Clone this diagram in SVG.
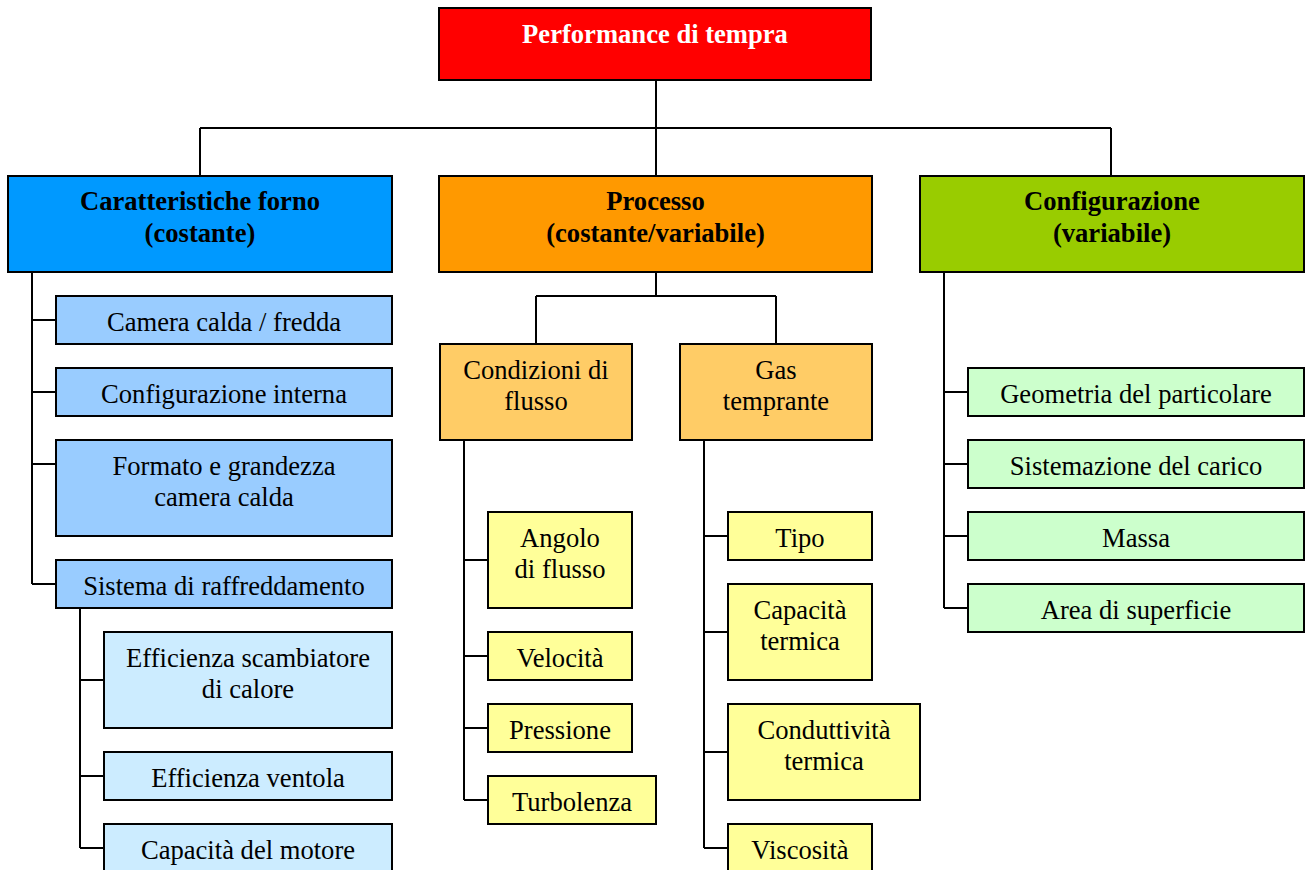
<svg xmlns="http://www.w3.org/2000/svg" width="1305" height="870" viewBox="0 0 1305 870">
<style>
rect{stroke:#000;stroke-width:2}
text{font-family:"Liberation Serif","Times New Roman",serif;font-size:26.6px;text-anchor:middle;fill:#000}
.b{font-weight:bold}
.w{fill:#fff}
#connectors path{fill:none;stroke:#000;stroke-width:2}
.red{fill:#ff0000}.blue{fill:#0099ff}.orange{fill:#ff9900}.green{fill:#99cc00}
.lb{fill:#99ccff}.llb{fill:#ccecff}.lo{fill:#ffcc66}.ye{fill:#ffff99}.lg{fill:#ccffcc}
</style>
<rect x="0" y="0" width="1305" height="870" fill="#fff" style="stroke:none"/>
<g id="connectors">
<path d="M656 80V128M200 128H1111M200 128V176M656 128V176M1111 128V176"/>
<path d="M32 272V584M32 320H56M32 392H56M32 464H56M32 584H56"/>
<path d="M80 608V848M80 680H104M80 776H104M80 848H104"/>
<path d="M656 272V296M536 296H776M536 296V344M776 296V344"/>
<path d="M464 440V800M464 560H488M464 656H488M464 728H488M464 800H488"/>
<path d="M704 440V848M704 536H728M704 632H728M704 752H728M704 848H728"/>
<path d="M944 272V608M944 392H968M944 464H968M944 536H968M944 608H968"/>
</g>
<g id="root"><rect class="red" x="439" y="8" width="432" height="72"/><text class="b w" x="655" y="43">Performance di tempra</text></g>
<g id="forno"><rect class="blue" x="8" y="176" width="384" height="96"/><text class="b" x="200" y="210">Caratteristiche forno</text><text class="b" x="200" y="242">(costante)</text></g>
<g id="processo"><rect class="orange" x="439" y="176" width="433" height="96"/><text class="b" x="655.5" y="210">Processo</text><text class="b" x="655.5" y="242">(costante/variabile)</text></g>
<g id="configurazione"><rect class="green" x="920" y="176" width="384" height="96"/><text class="b" x="1112" y="210">Configurazione</text><text class="b" x="1112" y="242">(variabile)</text></g>
<g id="camera"><rect class="lb" x="56" y="296" width="336" height="48"/><text x="224" y="331">Camera calda / fredda</text></g>
<g id="confint"><rect class="lb" x="56" y="368" width="336" height="48"/><text x="224" y="403">Configurazione interna</text></g>
<g id="formato"><rect class="lb" x="56" y="440" width="336" height="96"/><text x="224" y="475">Formato e grandezza</text><text x="224" y="506">camera calda</text></g>
<g id="sistema"><rect class="lb" x="56" y="560" width="336" height="48"/><text x="224" y="595">Sistema di raffreddamento</text></g>
<g id="scambiatore"><rect class="llb" x="104" y="632" width="288" height="96"/><text x="248" y="667">Efficienza scambiatore</text><text x="248" y="698">di calore</text></g>
<g id="ventola"><rect class="llb" x="104" y="752" width="288" height="48"/><text x="248" y="787">Efficienza ventola</text></g>
<g id="motore"><rect class="llb" x="104" y="824" width="288" height="60"/><text x="248" y="859">Capacità del motore</text></g>
<g id="flusso"><rect class="lo" x="440" y="344" width="192" height="96"/><text x="536" y="379">Condizioni di</text><text x="536" y="410">flusso</text></g>
<g id="gas"><rect class="lo" x="680" y="344" width="192" height="96"/><text x="776" y="379">Gas</text><text x="776" y="410">temprante</text></g>
<g id="angolo"><rect class="ye" x="488" y="512" width="144" height="96"/><text x="560" y="547">Angolo</text><text x="560" y="578">di flusso</text></g>
<g id="velocita"><rect class="ye" x="488" y="632" width="144" height="48"/><text x="560" y="667">Velocità</text></g>
<g id="pressione"><rect class="ye" x="488" y="704" width="144" height="48"/><text x="560" y="739">Pressione</text></g>
<g id="turbolenza"><rect class="ye" x="488" y="776" width="168" height="48"/><text x="572" y="811">Turbolenza</text></g>
<g id="tipo"><rect class="ye" x="728" y="512" width="144" height="48"/><text x="800" y="547">Tipo</text></g>
<g id="capterm"><rect class="ye" x="728" y="584" width="144" height="96"/><text x="800" y="619">Capacità</text><text x="800" y="650">termica</text></g>
<g id="condterm"><rect class="ye" x="728" y="704" width="192" height="96"/><text x="824" y="739">Conduttività</text><text x="824" y="770">termica</text></g>
<g id="viscosita"><rect class="ye" x="728" y="824" width="144" height="60"/><text x="800" y="859">Viscosità</text></g>
<g id="geometria"><rect class="lg" x="968" y="368" width="336" height="48"/><text x="1136" y="403">Geometria del particolare</text></g>
<g id="carico"><rect class="lg" x="968" y="440" width="336" height="48"/><text x="1136" y="475">Sistemazione del carico</text></g>
<g id="massa"><rect class="lg" x="968" y="512" width="336" height="48"/><text x="1136" y="547">Massa</text></g>
<g id="area"><rect class="lg" x="968" y="584" width="336" height="48"/><text x="1136" y="619">Area di superficie</text></g>
</svg>
